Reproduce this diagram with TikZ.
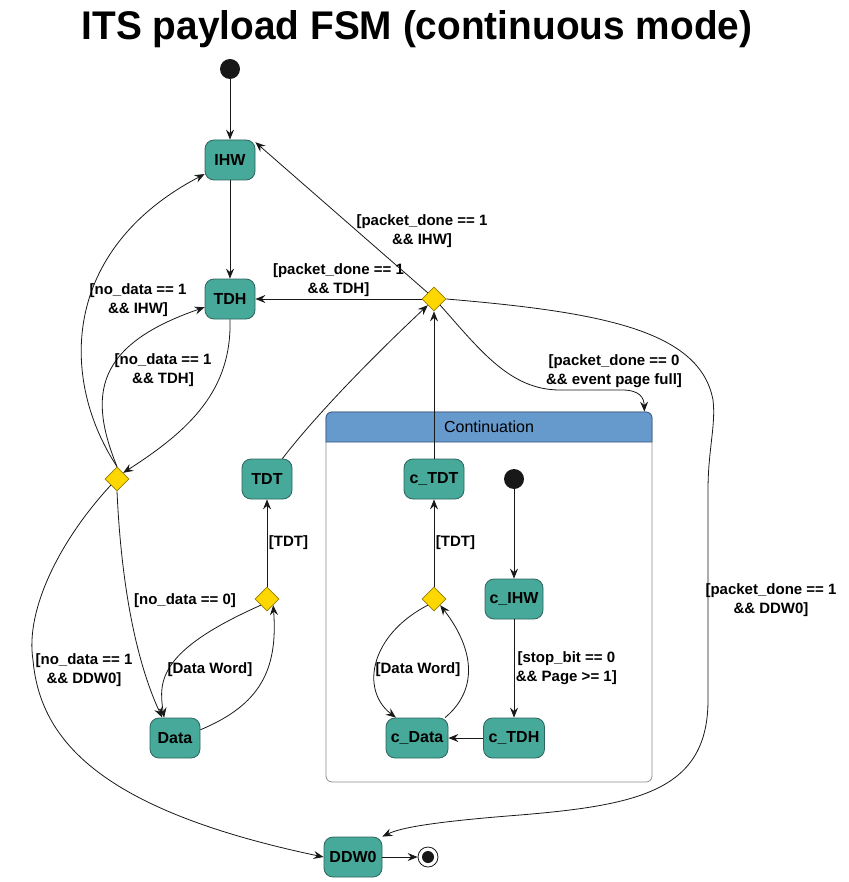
\documentclass[tikz,border=0pt]{standalone}
\usepackage{fontspec}
\setmainfont{Liberation Sans}
\usetikzlibrary{shapes.geometric,positioning,arrows.meta}
\definecolor{statefill}{RGB}{70,169,154}
\definecolor{stateline}{RGB}{45,100,92}
\definecolor{choicefill}{RGB}{255,215,0}
\definecolor{choiceline}{RGB}{150,125,0}
\definecolor{headfill}{RGB}{102,153,204}
\definecolor{headline}{RGB}{55,90,130}
\definecolor{boxline}{RGB}{140,140,140}
\definecolor{wire}{RGB}{24,24,24}
\tikzset{
  fsmstate/.style={draw=stateline, fill=statefill, rounded corners=9pt,
    minimum height=40pt, minimum width=50pt, inner sep=0pt,
    font=\bfseries\fontsize{16}{19}\selectfont},
  choice/.style={diamond, draw=choiceline, fill=choicefill, aspect=1,
    minimum size=24pt, inner sep=0pt},
  startdot/.style={circle, fill=wire, minimum size=20pt, inner sep=0pt},
  stopdot/.style={circle, draw=wire, fill=white, minimum size=20pt, inner sep=0pt,
    path picture={\fill[wire] (path picture bounding box.center) circle (6pt);}},
  guard/.style={align=center, inner sep=1.5pt,
    font=\bfseries\fontsize{15}{19}\selectfont},
}

\begin{document}
\begin{tikzpicture}[x=1pt, y=-1pt, ->, >={Stealth[length=10pt,width=8pt,inset=3.5pt]}, line width=0.8pt, draw=wire]
        \useasboundingbox (0,0) rectangle (848,882);
        \node[font=\bfseries\fontsize{40}{44}\selectfont, xscale=0.97] (title) at (417,29) {ITS payload FSM (continuous mode)};

        % composite state
        \node[draw=boxline, rounded corners=6pt, minimum width=326pt, minimum height=370pt, inner sep=0pt] (cont) at (489,597) {};
        \path[-, fill=headfill, draw=headline] (326,442) -- (326,418) arc (180:90:6pt) -- (646,412) arc (90:0:6pt) -- (652,442) -- cycle;
        \node[font=\fontsize{16}{19}\selectfont] (cont_title) at (489,427) {Continuation};

        % outer states
        \node[startdot] (start) at (230,69) {};
        \node[fsmstate] (ihw) at (230,160) {IHW};
        \node[fsmstate] (tdh) at (230,299) {TDH};
        \node[fsmstate] (tdt) at (267,479) {TDT};
        \node[fsmstate] (data) at (175,738) {Data};
        \node[fsmstate, minimum width=58pt] (ddw0) at (353,857) {DDW0};
        \node[stopdot] (stop) at (428,857) {};
        \node[choice] (pk) at (434,299) {};
        \node[choice] (dl) at (117,479) {};
        \node[choice] (dm) at (267,599) {};

        % inner states
        \node[startdot] (cstart) at (514,479) {};
        \node[fsmstate, minimum width=60pt] (ctdt) at (434,479) {c\_TDT};
        \node[fsmstate, minimum width=58pt] (cihw) at (514,599) {c\_IHW};
        \node[fsmstate, minimum width=61pt] (ctdh) at (514,738) {c\_TDH};
        \node[fsmstate, minimum width=62pt] (cdata) at (417,738) {c\_Data};
        \node[choice] (cd) at (434,599) {};

        \path (start) edge (ihw)
        (ihw) edge (tdh)
        (pk) edge node [guard, above] (g_pk_tdh) {[packet\_done == 1\\\&\& TDH]} (tdh)
        (pk.north west) edge (ihw.35)
        (dm) edge node [guard, right] (g_dm_tdt) {[TDT]} (tdt)
        (cd) edge node [guard, right] (g_cd_ctdt) {[TDT]} (ctdt)
        (ctdt) edge (pk)
        (cstart) edge (cihw)
        (cihw) edge node [guard, right] (g_cihw_ctdh) {[stop\_bit == 0\\\&\& Page >= 1]} (ctdh)
        (ctdh) edge (cdata)
        (ddw0) edge (stop);

        \draw (tdh.south) .. controls (232,390) and (190,430) .. (dl.north east);
        \draw (dl.north) .. controls (88,395) and (95,345) .. (tdh.198);
        \draw (dl.north) .. controls (60,380) and (60,250) .. (ihw.209);
        \draw (dl.south) .. controls (122,600) and (140,670) .. (data.122);
        \draw (dl.south west) .. controls (60,540) and (25,610) .. (33,660)
              .. controls (40,740) and (100,810) .. (ddw0.west);
        \draw (data.18) .. controls (260,705) and (278,670) .. (dm.south east);
        \draw (dm.south west) .. controls (160,650) and (158,680) .. (data.118);
        \draw (tdt.53) .. controls (320,410) and (380,350) .. (pk.south west);
        \draw (pk.south east) .. controls (480,350) and (510,390) .. (560,390) -- (622,390)
              .. controls (640,390) and (644,398) .. ([xshift=-8pt]cont.north east);
        \draw (pk.east) .. controls (600,312) and (700,330) .. (713,400)
              .. controls (716,425) and (708,450) .. (708,490) -- (708,700)
              .. controls (708,790) and (640,805) .. (520,815)
              .. controls (430,822) and (400,828) .. (ddw0.north east);
        \draw (cdata.36) .. controls (478,690) and (475,650) .. (cd.south east);
        \draw (cd.south west) .. controls (370,635) and (360,690) .. (cdata.136);

        \node[guard] (g_pk_ihw) at (422,231) {[packet\_done == 1\\\&\& IHW]};
        \node[guard] (g_pk_cont) at (614,371) {[packet\_done == 0\\\&\& event page full]};
        \node[guard] (g_pk_ddw0) at (771,600) {[packet\_done == 1\\\&\& DDW0]};
        \node[guard] (g_dl_ihw) at (138,300) {[no\_data == 1\\\&\& IHW]};
        \node[guard] (g_dl_tdh) at (163,370) {[no\_data == 1\\\&\& TDH]};
        \node[guard] (g_dl_data) at (185,601) {[no\_data == 0]};
        \node[guard] (g_dl_ddw0) at (84,670) {[no\_data == 1\\\&\& DDW0]};
        \node[guard] (g_dm_data) at (210,670) {[Data Word]};
        \node[guard] (g_cd_cdata) at (418,670) {[Data Word]};
      \end{tikzpicture}
\end{document}
